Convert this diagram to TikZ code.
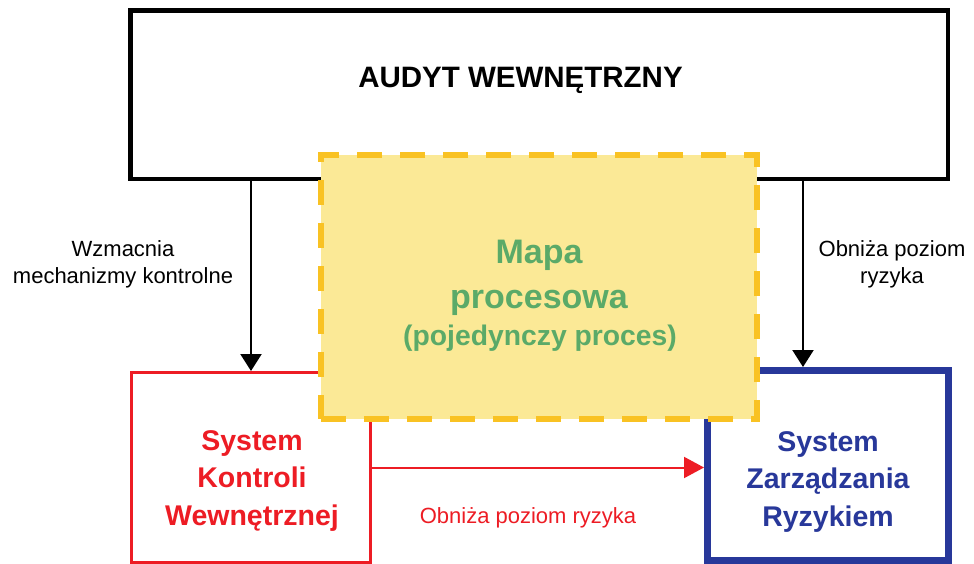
\documentclass[tikz,border=0pt]{standalone}
\usepackage{fontspec}
\setmainfont{Liberation Sans}
\usetikzlibrary{arrows.meta}

\definecolor{skred}{HTML}{ED1C24}
\definecolor{srblue}{HTML}{28389A}
\definecolor{mapgreen}{HTML}{5BAA68}
\definecolor{mapfill}{HTML}{FBE996}
\definecolor{mapdash}{HTML}{F9C223}

\tikzset{
  framebox/.style={draw, rectangle, inner sep=0pt, fill=white},
  downarrow/.style={draw=black, line width=2.2pt,
    -{Triangle[width=21pt,length=17pt]}},
  riskarrow/.style={draw=skred, fill=skred, line width=2pt,
    -{Triangle[width=21pt,length=20pt]}},
  % multi-line labels: the base anchor sits on the last line
  boxtext/.style={anchor=base, align=center, inner sep=0pt,
    font=\fontsize{28.5}{37.5}\selectfont\bfseries},
  sidetext/.style={anchor=base, align=center, inner sep=0pt,
    font=\fontsize{22}{27}\selectfont}
}

\begin{document}
\begin{tikzpicture}[x=1pt, y=-1pt]
\useasboundingbox[fill=white] (0,0) rectangle (974,564);

% audit frame
\node[framebox, line width=4.5pt, minimum width=817.5pt, minimum height=168.5pt]
  (audit) at (539.25,94.75) {};
\node[anchor=base, inner sep=0pt, font=\fontsize{29.5}{35}\selectfont\bfseries]
  (auditlbl) at (520.5,88) {AUDYT WEWNĘTRZNY};

% internal control system and risk management system frames
\node[framebox, draw=skred, line width=3pt, minimum width=239pt, minimum height=190pt]
  (control) at (251,467.5) {};
\node[framebox, draw=srblue, line width=7pt, minimum width=241pt, minimum height=190pt]
  (risk) at (828,465.5) {};

% connectors from the audit frame
\draw[downarrow] (audit.south -| control.north) -- (control.north);
\coordinate (riskin) at ([xshift=-25pt]risk.north);
\draw[downarrow] (audit.south -| riskin) -- (riskin);
\draw[riskarrow] (control.east) -- (control.east -| risk.west);

% process map overlay
\node[rectangle, inner sep=0pt, fill=mapfill, draw=mapdash, line width=5.5pt,
  dash pattern=on 25pt off 18pt, minimum width=436pt, minimum height=264pt]
  (map) at (539,287) {};

% texts
\node[boxtext, text=mapgreen, font=\fontsize{34}{45}\selectfont\bfseries]
  (maplbl) at (539,308) {Mapa\\procesowa};
\node[boxtext, text=mapgreen, font=\fontsize{28.3}{35}\selectfont\bfseries]
  (mapsub) at (540,345) {(pojedynczy proces)};

\node[boxtext, text=skred] (controllbl) at (252,525)
  {System\\Kontroli\\Wewnętrznej};
\node[boxtext, text=srblue] (risklbl) at (828,526)
  {System\\Zarządzania\\Ryzykiem};

\node[sidetext] (leftlbl) at (123,283) {Wzmacnia\\mechanizmy kontrolne};
\node[sidetext] (rightlbl) at (892,283) {Obniża poziom\\ryzyka};
\node[sidetext, text=skred] (bottomlbl) at (528,523) {Obniża poziom ryzyka};
\end{tikzpicture}
\end{document}
